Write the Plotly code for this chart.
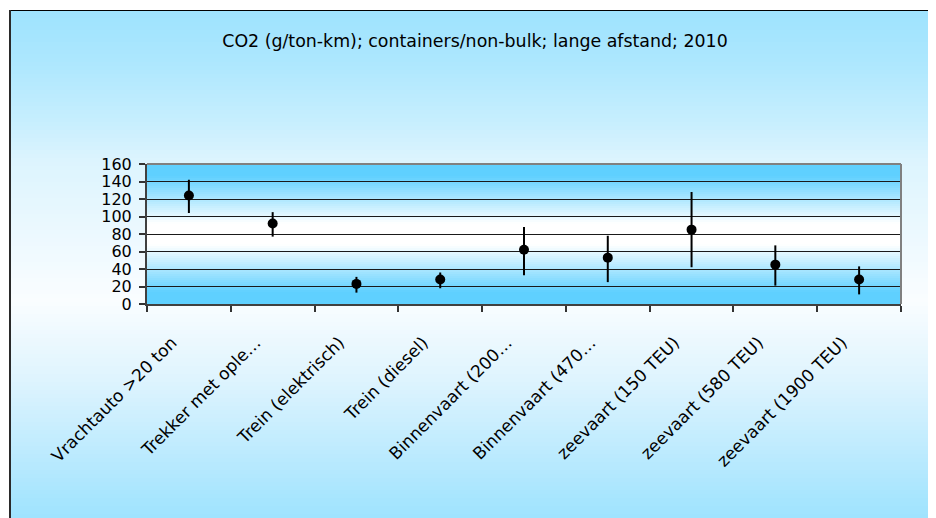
import plotly.graph_objects as go

# ---- data ----
categories = [
    "Vrachtauto >20 ton",
    "Trekker met ople\u2026",
    "Trein (elektrisch)",
    "Trein (diesel)",
    "Binnenvaart (200\u2026",
    "Binnenvaart (470\u2026",
    "zeevaart (150 TEU)",
    "zeevaart (580 TEU)",
    "zeevaart (1900 TEU)",
]
co2_mid = [124, 92, 23, 28, 62, 53, 85, 45, 28]
co2_high = [142, 105, 31, 36, 88, 78, 128, 67, 43]
co2_low = [104, 77, 13, 18, 33, 25, 42, 21, 11]
y_ticks = [0, 20, 40, 60, 80, 100, 120, 140, 160]

title_text = "CO2 (g/ton-km); containers/non-bulk; lange afstand; 2010"

# ---- layout geometry (screen pixels; page body has an 8px margin) ----
OFF = 8
W, H = 936 - OFF, 518 - OFF
PX0, PX1, PY0, PY1 = 147, 901, 164, 304          # plot area in screen coords
L = PX0 - OFF
R = W - (PX1 - OFF)
T = PY0 - OFF
B = H - (PY1 - OFF)
PW = PX1 - PX0
PH = PY1 - PY0


def sx(px):
    return (px - PX0) / PW


def sy(py):
    return (PY1 - py) / PH


def rgb(c):
    return "rgb(%d,%d,%d)" % tuple(int(round(v)) for v in c)


def lerp(a, b, t):
    return [a[i] + (b[i] - a[i]) * t for i in range(3)]


shapes = []

# outer chart-area gradient
bg_stops = [(10, (158, 227, 254)), (60, (172, 231, 254)), (120, (198, 238, 254)),
            (160, (220, 244, 254)), (300, (250, 253, 255)), (380, (222, 244, 254)),
            (450, (190, 235, 254)), (518, (158, 227, 254))]


def bg_color(y):
    for (y0, c0), (y1, c1) in zip(bg_stops[:-1], bg_stops[1:]):
        if y0 <= y <= y1:
            return lerp(c0, c1, (y - y0) / (y1 - y0))
    return bg_stops[-1][1]


step = 4
for y in range(10, 520, step):
    shapes.append(dict(type="rect", xref="paper", yref="paper", layer="below",
                       x0=sx(9), x1=sx(945),
                       y0=sy(y), y1=sy(y + step + 0.5),
                       fillcolor=rgb(bg_color(y + step / 2)), line=dict(width=0)))

# plot-area gradient (blue - white - blue)
blue = (95, 208, 255)
white = (255, 255, 255)
n = 70
for i in range(n):
    t0 = i / n
    t1 = (i + 1) / n
    tm = (t0 + t1) / 2
    d = abs(tm - 0.5) * 2
    f = min(max((d - 0.15) / 0.68, 0), 1)
    shapes.append(dict(type="rect", xref="paper", yref="paper", layer="below",
                       x0=0, x1=1, y0=1 - t1 - 0.002, y1=1 - t0,
                       fillcolor=rgb(lerp(white, blue, f)), line=dict(width=0)))

# plot frame top/right (gray)
shapes.append(dict(type="line", xref="paper", yref="paper", x0=0, x1=1, y0=1, y1=1,
                   line=dict(color="#808080", width=2), layer="above"))
shapes.append(dict(type="line", xref="paper", yref="paper", x0=1, x1=1, y0=0, y1=1,
                   line=dict(color="#808080", width=2), layer="above"))

# chart border (top/left)
shapes.append(dict(type="line", xref="paper", yref="paper",
                   x0=sx(9), x1=sx(945), y0=sy(10.5), y1=sy(10.5),
                   line=dict(color="#000000", width=1), layer="above"))
shapes.append(dict(type="line", xref="paper", yref="paper",
                   x0=sx(10), x1=sx(10), y0=sy(10), y1=sy(530),
                   line=dict(color="#2a2a2a", width=2), layer="above"))

err_plus = [h - m for h, m in zip(co2_high, co2_mid)]
err_minus = [m - l for m, l in zip(co2_mid, co2_low)]

fig = go.Figure()
fig.add_trace(go.Scatter(
    x=categories, y=co2_mid, mode="markers",
    marker=dict(color="black", size=10),
    error_y=dict(type="data", symmetric=False, array=err_plus, arrayminus=err_minus,
                 color="black", thickness=2, width=0),
    showlegend=False,
))

fig.update_layout(
    width=W, height=H,
    margin=dict(l=L, r=R, t=T, b=B, autoexpand=False),
    paper_bgcolor="white",
    plot_bgcolor="rgba(0,0,0,0)",
    shapes=shapes,
    title=dict(text=title_text, x=(475 - OFF) / W, xanchor="center",
               y=1 - (41 - OFF) / H, yanchor="middle",
               yref="container", xref="container",
               font=dict(family="DejaVu Sans", size=17.4, color="black")),
    xaxis=dict(
        type="category", tickson="boundaries", ticks="outside", ticklen=6,
        tickcolor="#333333", tickwidth=1.5,
        showline=True, linecolor="#404040", linewidth=2,
        showgrid=False, tickangle=-45,
        ticklabelstandoff=20, ticklabelshift=-17,
        tickfont=dict(family="DejaVu Sans", size=17, color="black"),
        range=[-0.5, 8.5],
    ),
    yaxis=dict(
        range=[0, 160], tickvals=y_ticks, ticks="outside", ticklen=6,
        tickcolor="#333333", tickwidth=1.5,
        showline=True, linecolor="#404040", linewidth=2,
        showgrid=True, gridcolor="#1a1a1a", gridwidth=1,
        zeroline=False, ticklabelstandoff=4,
        tickfont=dict(family="DejaVu Sans", size=16, color="black"),
    ),
)

fig.write_html("out.html")
